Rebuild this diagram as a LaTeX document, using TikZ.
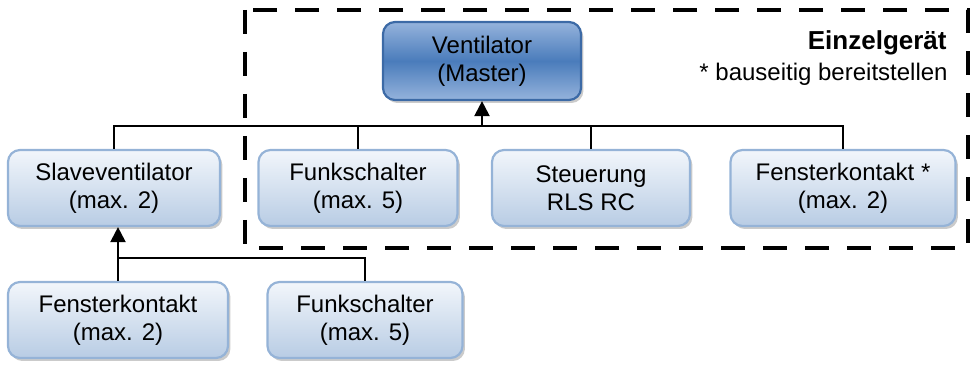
\documentclass[tikz,border=0pt]{standalone}
\usepackage{fontspec}
\setmainfont{Liberation Sans}
\usetikzlibrary{arrows.meta,shadows}
\definecolor{boxline}{HTML}{95B3D7}
\definecolor{boxtop}{HTML}{F2F6FB}
\definecolor{boxbottom}{HTML}{B8CCE4}
\definecolor{masterline}{HTML}{3C6AA6}
\definecolor{mastertop}{HTML}{95B3DC}
\definecolor{mastermid}{HTML}{4A7CBB}

\begin{document}
\begin{tikzpicture}[x=0.5pt,y=-0.5pt]
\tikzstyle{every node}+=[font=\fontsize{12}{14}\selectfont, align=center, inner sep=0pt]
\tikzstyle{unit}=[draw=boxline, line width=1.1pt, rounded corners=6pt,
  top color=boxtop, bottom color=boxbottom, minimum height=38pt,
  drop shadow={shadow xshift=1.2pt, shadow yshift=-1.5pt, fill=black!45, opacity=.45}]
\tikzstyle{master}=[unit, draw=masterline, top color=mastertop, bottom color=mastertop, middle color=mastermid]
\tikzstyle{link}=[line width=1.1pt]
\tikzstyle{feed}=[link, -{Triangle[length=7.5pt,width=7.5pt]}]
\useasboundingbox (0,0) rectangle (976,368);

% device boundary
\draw[line width=2.4pt, dash pattern=on 12pt off 9pt] (245,10) rectangle (968,248);
\node[font=\fontsize{13}{15}\selectfont\bfseries, anchor=base east] (title) at (947,50) {Einzelgerät};
\node[anchor=base east] (note) at (948,81) {* bauseitig bereitstellen};

% units
\node[master, minimum width=99pt, minimum height=39pt] (master) at (482,61) {Ventilator\\(Master)};
\node[unit, minimum width=106pt] (slave) at (114,188) {Slaveventilator\\(max. 2)};
\node[unit, minimum width=99.5pt] (funk) at (358,188) {Funkschalter\\(max. 5)};
\node[unit, minimum width=99pt] (steuer) at (591,188) {Steuerung\\RLS RC};
\node[unit, minimum width=112.5pt] (fenster) at (843,188) {Fensterkontakt *\\(max. 2)};
\node[unit, minimum width=110pt] (slavefenster) at (118,320) {Fensterkontakt\\(max. 2)};
\node[unit, minimum width=97.5pt] (slavefunk) at (365,320) {Funkschalter\\(max. 5)};

% connections to the master
\coordinate (mbus) at (master.south |- 0,126);
\draw[link] (slave.north) |- (mbus) -| (fenster.north);
\draw[link] (funk.north) -- (funk.north |- mbus);
\draw[link] (steuer.north) -- (steuer.north |- mbus);
\draw[feed] (mbus) -- (master.south);

% connections to the slave
\coordinate (sbus) at (slavefenster.north |- 0,258);
\draw[link] (slavefenster.north) -- (sbus) -| (slavefunk.north);
\draw[feed] (sbus) -- (sbus |- slave.south);
\end{tikzpicture}
\end{document}
